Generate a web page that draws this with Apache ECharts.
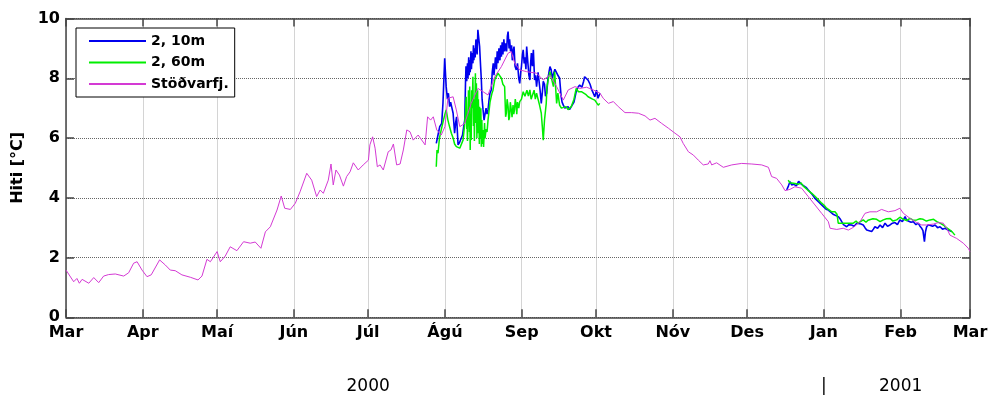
<!DOCTYPE html>
<html>
<head>
<meta charset="utf-8">
<script src="https://cdn.jsdelivr.net/npm/echarts@6/dist/echarts.min.js"></script>
<style>
  html, body { margin: 0; padding: 0; background: #fff; }
  #chart { width: 989px; height: 402px; }
</style>
</head>
<body>
<div id="chart"></div>
<script>
// Time is counted in days from 1 March 2000.
const monthStarts = [0, 31, 61, 92, 122, 153, 184, 214, 245, 275, 306, 337, 365];
const monthNames = ['Mar', 'Apr', 'Maí', 'Jún', 'Júl', 'Ágú', 'Sep', 'Okt', 'Nóv', 'Des', 'Jan', 'Feb', 'Mar'];
const yearMarks = [122, 306, 337];
const yearNames = ['2000', '|', '2001'];

// Stöðvarfjörður weather station, air temperature
const stodDays = [0, 3.1, 4.4, 5.4, 6.5, 9.2, 11.2, 13.2, 15.2, 17.2, 19.9, 23.3, 25.3, 27.3, 28.7, 30.7, 32.7, 34.4, 37.8, 40.1,
  42.1, 44.1, 46.8, 50.2, 53.3, 54.9, 56.9, 58.3, 61.0, 62.3, 64.3, 66.3, 69.0, 71.7, 74.4, 76.4, 78.7, 80.5, 82.5, 85.2,
  86.9, 88.3, 90.6, 92.6, 94.5, 97.2, 99.2, 101.2, 102.6, 103.9, 105.9, 107.0, 107.9, 109.0, 110.4, 112.0, 113.3, 114.7, 116.0, 118.0,
  120.0, 122.1, 122.7, 123.8, 124.8, 125.7, 126.8, 128.1, 130.1, 131.2, 132.2, 133.5, 134.9, 136.2, 137.6, 138.9, 140.2, 142.2, 145.0, 146.0,
  147.2, 148.3, 149.7, 151.5, 153.0, 154.2, 156.3, 157.6, 159.0, 161.0, 163.6, 166.3, 168.4, 170.4, 173.1, 175.8, 178.5, 179.8, 181.2, 183.2,
  186.0, 190.0, 192.7, 195.4, 198.1, 200.8, 202.8, 205.5, 207.5, 210.2, 212.9, 215.6, 216.9, 219.0, 221.0, 223.0, 225.7, 228.4, 231.1, 233.8,
  235.8, 237.8, 240.5, 243.2, 245.9, 247.9, 249.2, 251.3, 253.3, 255.3, 257.3, 259.3, 260.0, 260.7, 262.7, 265.4, 268.8, 272.8, 276.9, 280.9,
  283.6, 284.9, 286.9, 289.0, 290.3, 292.3, 294.3, 297.0, 299.7, 302.4, 305.1, 307.8, 308.5, 311.2, 313.8, 315.9, 317.9, 320.6, 322.6, 324.6,
  327.3, 329.3, 332.0, 334.7, 336.7, 338.1, 340.8, 343.5, 345.5, 347.5, 350.2, 352.2, 354.2, 355.6, 356.9, 359.6, 362.3, 364.3, 365];
const stodTemp = [1.58, 1.19, 1.30, 1.14, 1.27, 1.14, 1.33, 1.16, 1.38, 1.43, 1.45, 1.38, 1.49, 1.81, 1.86, 1.58, 1.36, 1.42, 1.92, 1.75,
  1.58, 1.56, 1.42, 1.34, 1.25, 1.38, 1.94, 1.86, 2.20, 1.86, 2.05, 2.36, 2.23, 2.53, 2.48, 2.52, 2.31, 2.86, 3.03, 3.59,
  4.06, 3.65, 3.61, 3.82, 4.20, 4.82, 4.59, 4.04, 4.26, 4.15, 4.59, 5.13, 4.43, 4.93, 4.76, 4.39, 4.71, 4.87, 5.17, 4.93,
  5.10, 5.26, 5.77, 6.04, 5.66, 5.04, 5.10, 4.93, 5.54, 5.60, 5.80, 5.10, 5.13, 5.60, 6.27, 6.21, 5.93, 6.10, 5.77, 6.71,
  6.60, 6.71, 6.27, 6.10, 6.38, 7.33, 7.38, 6.94, 6.38, 6.49, 7.16, 7.66, 7.55, 7.44, 8.05, 8.39, 8.84, 8.89, 8.50, 8.28,
  8.22, 8.17, 7.94, 8.11, 7.72, 7.27, 7.61, 7.72, 7.66, 7.70, 7.61, 7.50, 7.33, 7.16, 7.22, 7.05, 6.85, 6.85, 6.83, 6.74,
  6.60, 6.66, 6.49, 6.33, 6.16, 6.04, 5.82, 5.54, 5.43, 5.26, 5.10, 5.13, 5.24, 5.10, 5.17, 5.02, 5.10, 5.15, 5.13, 5.10,
  5.02, 4.71, 4.65, 4.43, 4.24, 4.28, 4.37, 4.32, 4.04, 3.76, 3.48, 3.20, 2.98, 2.94, 2.98, 2.92, 3.01, 3.20, 3.48, 3.53,
  3.53, 3.61, 3.53, 3.57, 3.65, 3.48, 3.31, 3.17, 3.09, 3.09, 3.12, 3.17, 3.15, 2.98, 2.75, 2.64, 2.48, 2.31, 2.20];

// Station 2, 10 m depth: [day, °C], summer deployment
const d10Summer = [
  [149.5, 5.82], [150.2, 6.10], [150.9, 6.38], [151.7, 6.49], [152.2, 7.16], [152.9, 8.67], [153.5, 7.72], [154.0, 7.30],
  [154.4, 7.50], [154.9, 7.05], [155.3, 7.20], [155.7, 7.05], [156.3, 6.83], [156.9, 6.16], [157.3, 6.50], [157.7, 6.71],
  [158.3, 5.77], [158.9, 5.85], [159.6, 5.82], [160.1, 6.10], [160.6, 6.40], [161.0, 6.60], [161.3, 7.83], [161.5, 8.40],
  [161.6, 8.28], [161.8, 7.90], [162.1, 8.50], [162.3, 8.00], [162.6, 8.70], [162.8, 8.10], [163.0, 8.61], [163.2, 8.20],
  [163.5, 8.90], [163.7, 8.30], [164.0, 8.84], [164.3, 8.50], [164.5, 9.10], [164.7, 8.60], [164.9, 9.00], [165.2, 8.70],
  [165.5, 9.30], [165.7, 9.17], [166.0, 8.80], [166.3, 9.62], [166.6, 9.67], [167.0, 9.06], [167.4, 8.40], [167.7, 7.94],
  [168.0, 7.30], [168.4, 6.94], [168.8, 6.60], [169.2, 6.80], [169.6, 7.00], [170.0, 6.80], [170.4, 6.94], [170.8, 7.27],
  [171.2, 7.50], [171.7, 7.61], [172.1, 8.20], [172.5, 8.50], [172.8, 8.10], [173.1, 8.05], [173.4, 8.70], [173.8, 8.30],
  [174.1, 8.90], [174.4, 8.50], [174.8, 9.00], [175.2, 8.60], [175.5, 9.10], [175.8, 8.72], [176.1, 9.20], [176.4, 8.80],
  [176.8, 9.30], [177.1, 8.90], [177.5, 9.17], [177.9, 8.90], [178.2, 9.40], [178.5, 9.56], [178.9, 9.00], [179.1, 9.30],
  [179.5, 8.90], [179.9, 9.10], [180.2, 8.60], [180.5, 8.90], [180.9, 9.06], [181.3, 8.40], [181.8, 8.28], [182.3, 8.50],
  [182.8, 8.00], [183.2, 7.83], [183.6, 8.20], [183.9, 8.40], [184.3, 8.80], [184.6, 8.95], [185.0, 8.50], [185.3, 8.70],
  [185.7, 8.30], [186.0, 9.06], [186.5, 8.50], [186.9, 8.10], [187.3, 7.94], [187.6, 8.50], [187.9, 8.84], [188.3, 8.40],
  [188.7, 8.95], [189.2, 7.94], [189.6, 8.10], [190.0, 7.72], [190.6, 8.20], [191.0, 7.90], [191.4, 7.61], [191.9, 7.16],
  [192.3, 7.50], [192.7, 7.90], [193.2, 7.80], [193.6, 7.40], [194.1, 7.50], [194.6, 8.00], [195.0, 8.20], [195.4, 8.39],
  [195.9, 8.28], [196.3, 8.00], [196.8, 8.05], [197.4, 8.30], [198.0, 8.33], [198.6, 8.10], [199.3, 8.00], [199.9, 7.40],
  [200.3, 7.20], [200.8, 7.10], [201.4, 7.00], [202.0, 6.99], [202.7, 7.05], [203.3, 6.95], [204.0, 6.96], [205.1, 7.20],
  [206.0, 7.55], [206.7, 7.70], [207.4, 7.77], [208.3, 7.70], [209.0, 7.90], [209.4, 8.05], [210.0, 8.10], [210.8, 7.94],
  [211.6, 7.80], [212.3, 7.61], [212.9, 7.50], [213.5, 7.38], [214.2, 7.60], [214.8, 7.33], [215.6, 7.50]
];
// Station 2, 10 m depth: winter deployment
const d10Winter = [
  [291.0, 4.26], [291.7, 4.40], [292.3, 4.54], [293.0, 4.43], [293.9, 4.45], [294.9, 4.40], [295.8, 4.55], [296.4, 4.59],
  [297.0, 4.45], [297.7, 4.43], [298.8, 4.35], [299.7, 4.26], [300.4, 4.26], [301.4, 4.10], [302.4, 3.98], [303.1, 3.93],
  [304.0, 3.85], [305.1, 3.76], [305.8, 3.70], [306.9, 3.62], [307.8, 3.59], [308.5, 3.53], [309.7, 3.45], [310.5, 3.48],
  [311.8, 3.37], [312.5, 3.30], [313.2, 3.26], [313.9, 3.10], [315.2, 3.03], [316.1, 3.10], [317.2, 3.09], [318.2, 3.05],
  [319.3, 3.15], [320.0, 3.10], [321.0, 3.12], [321.9, 3.09], [322.6, 3.00], [323.3, 2.92], [324.0, 2.95], [325.3, 2.87],
  [326.0, 2.95], [326.6, 3.03], [327.7, 2.98], [328.7, 3.09], [329.7, 3.00], [330.7, 3.15], [331.7, 3.05], [332.7, 3.09],
  [333.7, 3.15], [334.7, 3.17], [335.7, 3.10], [336.7, 3.26], [337.7, 3.20], [338.8, 3.37], [339.4, 3.25], [340.1, 3.26],
  [341.2, 3.18], [342.1, 3.20], [343.2, 3.10], [344.1, 3.15], [344.8, 3.05], [345.5, 2.98], [346.0, 2.90], [346.6, 2.53],
  [347.0, 2.85], [347.5, 3.03], [348.2, 3.10], [348.9, 3.15], [349.9, 3.05], [350.9, 3.09], [351.9, 3.00], [352.9, 3.03],
  [353.9, 2.95], [354.9, 2.98], [356.2, 2.92], [357.6, 2.87]
];

// Station 2, 60 m depth: summer deployment
const d60Summer = [
  [149.5, 5.04], [149.8, 5.60], [150.2, 5.49], [150.8, 6.00], [151.5, 6.27], [152.4, 6.60], [153.0, 6.80], [153.5, 6.94],
  [154.2, 6.60], [154.8, 6.40], [155.6, 6.16], [156.3, 6.00], [156.9, 5.80], [157.6, 5.71], [158.4, 5.77], [159.0, 5.66],
  [159.7, 5.60], [160.3, 5.93], [160.9, 6.40], [161.3, 6.90], [161.6, 7.38], [161.8, 6.30], [161.9, 6.80], [162.1, 5.90],
  [162.3, 6.60], [162.5, 7.60], [162.7, 7.40], [162.9, 6.20], [163.0, 7.72], [163.2, 5.60], [163.4, 6.80], [163.6, 5.93],
  [163.8, 7.60], [164.0, 7.00], [164.3, 8.05], [164.5, 6.40], [164.7, 7.30], [164.9, 5.90], [165.0, 6.60], [165.3, 8.17],
  [165.5, 6.50], [165.7, 7.83], [165.9, 6.00], [166.0, 6.80], [166.2, 7.60], [166.3, 6.16], [166.5, 7.30], [166.7, 6.60],
  [166.9, 5.80], [167.0, 7.05], [167.2, 6.00], [167.4, 6.30], [167.5, 7.00], [167.7, 5.71], [167.9, 6.60], [168.0, 6.20],
  [168.2, 5.80], [168.4, 6.27], [168.6, 5.70], [168.8, 6.04], [169.0, 6.50], [169.2, 5.99], [169.6, 6.30], [170.0, 6.20],
  [170.4, 6.60], [170.8, 6.90], [171.2, 7.20], [171.7, 7.16], [172.0, 7.50], [172.4, 7.60], [172.8, 7.80], [173.1, 7.94],
  [173.8, 8.00], [174.4, 8.17], [175.2, 8.22], [175.8, 8.00], [176.4, 7.80], [177.1, 7.72], [177.5, 6.71], [177.8, 6.83],
  [178.1, 7.30], [178.5, 7.05], [178.8, 6.60], [179.1, 6.71], [179.4, 7.20], [179.7, 7.00], [180.1, 6.70], [180.5, 7.10],
  [180.8, 6.80], [181.1, 6.95], [181.4, 7.30], [181.8, 7.05], [182.0, 6.80], [182.3, 7.20], [182.8, 7.00], [183.2, 7.22],
  [183.9, 7.30], [184.6, 7.55], [185.3, 7.40], [186.1, 7.60], [186.7, 7.40], [187.3, 7.61], [187.8, 7.30], [188.4, 7.45],
  [189.0, 7.60], [189.5, 7.30], [190.0, 7.50], [190.6, 7.45], [191.2, 7.10], [191.9, 6.83], [192.3, 6.40], [192.7, 5.93],
  [193.2, 6.60], [193.9, 7.16], [194.2, 7.72], [194.8, 8.00], [195.4, 8.22], [195.9, 8.28], [196.8, 7.72], [197.3, 8.22],
  [198.1, 7.16], [198.6, 7.50], [199.3, 7.10], [200.0, 7.00], [200.8, 6.99], [201.9, 7.05], [202.7, 6.95], [203.5, 6.94],
  [204.0, 7.05], [205.1, 7.30], [206.0, 7.66], [206.9, 7.55], [208.1, 7.55], [208.9, 7.55], [210.0, 7.45], [210.8, 7.38],
  [211.6, 7.44], [212.6, 7.30], [213.5, 7.27], [214.3, 7.27], [214.9, 7.10], [215.5, 7.16]
];
// Station 2, 60 m depth: winter deployment
const d60Winter = [
  [291.6, 4.59], [292.3, 4.50], [293.1, 4.55], [294.3, 4.48], [295.6, 4.45], [296.8, 4.50], [297.6, 4.40], [298.4, 4.37],
  [299.6, 4.25], [301.1, 4.15], [302.4, 4.05], [303.6, 3.95], [305.1, 3.82], [306.1, 3.75], [307.1, 3.65], [307.8, 3.59],
  [309.2, 3.53], [310.5, 3.53], [311.3, 3.45], [311.8, 3.15], [313.3, 3.15], [315.2, 3.15], [316.5, 3.15], [317.9, 3.15],
  [319.0, 3.22], [319.8, 3.15], [320.6, 3.20], [321.9, 3.26], [323.0, 3.18], [323.8, 3.25], [324.6, 3.20], [325.8, 3.30],
  [327.3, 3.28], [328.7, 3.20], [330.0, 3.26], [331.3, 3.30], [332.7, 3.31], [333.9, 3.22], [335.4, 3.26], [336.7, 3.35],
  [338.1, 3.28], [339.4, 3.24], [340.8, 3.31], [342.0, 3.25], [343.5, 3.26], [344.8, 3.30], [346.1, 3.28], [347.4, 3.22],
  [348.9, 3.26], [350.3, 3.28], [351.6, 3.20], [352.9, 3.15], [354.2, 3.09], [355.5, 3.00], [356.9, 2.92], [357.9, 2.85],
  [358.9, 2.75]
];

const pairs = (days, temps) => days.map((d, i) => [d, temps[i]]);
// Break between the two deployments so no line is drawn across the gap
const withGap = (a, b) => a.concat([[250, '-']], b);

const FONT = 'DejaVu Sans';
const AXIS_COLOR = '#444';

const chart = echarts.init(document.getElementById('chart'), null, { renderer: 'canvas' });

const baseX = { type: 'value', min: 0, max: 365 };

chart.setOption({
  animation: false,
  backgroundColor: '#fff',
  grid: { left: 66, right: 19, top: 18.5, bottom: 84.7, containLabel: false, outerBoundsMode: 'none' },
  legend: {
    orient: 'vertical',
    left: 76, top: 28,
    padding: [6, 6, 6, 12],
    itemWidth: 57, itemHeight: 14, itemGap: 7.5,
    backgroundColor: '#fff',
    borderColor: '#000', borderWidth: 1, borderRadius: 0,
    // line-only legend keys: hide the marker that sits on the line
    itemStyle: { color: 'rgba(0,0,0,0)', borderColor: 'rgba(0,0,0,0)', borderWidth: 0 },
    textStyle: { fontFamily: FONT, fontWeight: 'bold', fontSize: 14, color: '#000' },
    data: ['2, 10m', '2, 60m', 'Stöðvarfj.']
  },
  xAxis: [
    Object.assign({}, baseX, {
      position: 'bottom',
      axisLine: { show: true, onZero: false, lineStyle: { color: AXIS_COLOR, width: 1.5 } },
      axisTick: { show: true, inside: true, length: 8, customValues: monthStarts, lineStyle: { color: AXIS_COLOR, width: 1.5 } },
      axisLabel: {
        show: true, customValues: monthStarts, margin: 8,
        fontFamily: FONT, fontWeight: 'bold', fontSize: 16, color: '#000',
        formatter: v => monthNames[monthStarts.indexOf(v)]
      },
      splitLine: { show: true, lineStyle: { color: '#aaa', type: 'dotted', width: 1 } }
    }),
    Object.assign({}, baseX, {
      position: 'bottom',
      axisLine: { show: false },
      axisTick: { show: false },
      splitLine: { show: false },
      axisLabel: {
        show: true, customValues: yearMarks, margin: 61,
        fontFamily: FONT, fontSize: 17, color: '#000',
        formatter: v => yearNames[yearMarks.indexOf(v)]
      }
    }),
    Object.assign({}, baseX, {
      position: 'top',
      axisLine: { show: true, onZero: false, lineStyle: { color: AXIS_COLOR, width: 1.5 } },
      axisTick: { show: true, inside: true, length: 8, customValues: monthStarts, lineStyle: { color: AXIS_COLOR, width: 1.5 } },
      axisLabel: { show: false },
      splitLine: { show: false }
    })
  ],
  yAxis: [
    {
      type: 'value', min: 0, max: 10, interval: 2,
      position: 'left',
      name: 'Hiti [°C]', nameLocation: 'middle', nameGap: 40, nameRotate: 90,
      nameTextStyle: { fontFamily: FONT, fontWeight: 'bold', fontSize: 16, color: '#000' },
      axisLine: { show: true, onZero: false, lineStyle: { color: AXIS_COLOR, width: 1.5 } },
      axisTick: { show: true, inside: true, length: 8, lineStyle: { color: AXIS_COLOR, width: 1.5 } },
      axisLabel: { margin: 6, fontFamily: FONT, fontWeight: 'bold', fontSize: 16, color: '#000' },
      splitLine: { show: true, lineStyle: { color: '#666', type: 'dotted', width: 1 } }
    },
    {
      type: 'value', min: 0, max: 10, interval: 2,
      position: 'right',
      axisLine: { show: true, onZero: false, lineStyle: { color: AXIS_COLOR, width: 1.5 } },
      axisTick: { show: true, inside: true, length: 8, lineStyle: { color: AXIS_COLOR, width: 1.5 } },
      axisLabel: { show: false },
      splitLine: { show: false }
    }
  ],
  series: [
    {
      name: '2, 10m', type: 'line', xAxisIndex: 0, yAxisIndex: 0,
      symbol: 'none', connectNulls: false,
      lineStyle: { color: '#0000ee', width: 1.6 }, itemStyle: { color: '#0000ee' },
      data: withGap(d10Summer, d10Winter)
    },
    {
      name: '2, 60m', type: 'line', xAxisIndex: 0, yAxisIndex: 0,
      symbol: 'none', connectNulls: false,
      lineStyle: { color: '#00ee00', width: 1.5 }, itemStyle: { color: '#00ee00' },
      data: withGap(d60Summer, d60Winter)
    },
    {
      name: 'Stöðvarfj.', type: 'line', xAxisIndex: 0, yAxisIndex: 0,
      symbol: 'none',
      lineStyle: { color: '#d43ad4', width: 1 }, itemStyle: { color: '#d43ad4' },
      data: pairs(stodDays, stodTemp)
    }
  ]
});
</script>
</body>
</html>
